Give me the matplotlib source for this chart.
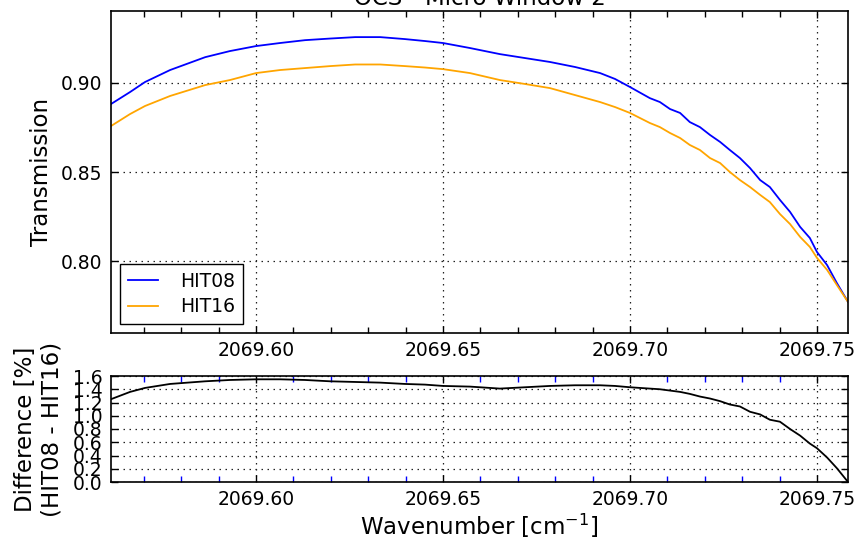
import matplotlib
matplotlib.use("Agg")
import matplotlib.pyplot as plt
from matplotlib.ticker import MultipleLocator, FormatStrFormatter

# ---- data ----
wavenumber = [2069.5612, 2069.5663, 2069.5703, 2069.5770, 2069.5864, 2069.5930,
              2069.6000, 2069.6064, 2069.6131, 2069.6198, 2069.6265, 2069.6332,
              2069.6398, 2069.6452, 2069.6500, 2069.6572, 2069.6652, 2069.6719,
              2069.6786, 2069.6853, 2069.6920, 2069.6960, 2069.7000, 2069.7053,
              2069.7080, 2069.7107, 2069.7134, 2069.7160, 2069.7187, 2069.7214,
              2069.7241, 2069.7267, 2069.7294, 2069.7321, 2069.7348, 2069.7374,
              2069.7401, 2069.7428, 2069.7455, 2069.7481, 2069.7500, 2069.7527,
              2069.7553, 2069.7583]

hit08 = [0.8880, 0.8947, 0.9003, 0.9070, 0.9142, 0.9176,
         0.9204, 0.9221, 0.9237, 0.9246, 0.9254, 0.9254,
         0.9243, 0.9232, 0.9221, 0.9193, 0.9159, 0.9137,
         0.9115, 0.9087, 0.9053, 0.9020, 0.8975, 0.8913,
         0.8891, 0.8852, 0.8830, 0.8779, 0.8751, 0.8707,
         0.8668, 0.8623, 0.8578, 0.8522, 0.8455, 0.8416,
         0.8344, 0.8277, 0.8193, 0.8131, 0.8053, 0.7980,
         0.7880, 0.7774]

hit16 = [0.8757, 0.8824, 0.8869, 0.8925, 0.8986, 0.9014,
         0.9053, 0.9070, 0.9081, 0.9092, 0.9101, 0.9101,
         0.9092, 0.9084, 0.9075, 0.9053, 0.9014, 0.8992,
         0.8969, 0.8930, 0.8891, 0.8863, 0.8830, 0.8774,
         0.8751, 0.8718, 0.8690, 0.8651, 0.8623, 0.8578,
         0.8550, 0.8500, 0.8455, 0.8416, 0.8372, 0.8332,
         0.8265, 0.8209, 0.8137, 0.8081, 0.8020, 0.7953,
         0.7869, 0.7774]

difference = [1.25, 1.36, 1.42, 1.48, 1.52, 1.54,
              1.55, 1.55, 1.54, 1.52, 1.51, 1.50,
              1.48, 1.47, 1.45, 1.44, 1.41, 1.43,
              1.45, 1.46, 1.46, 1.45, 1.43, 1.41,
              1.40, 1.38, 1.36, 1.33, 1.29, 1.26,
              1.22, 1.17, 1.14, 1.06, 1.02, 0.94,
              0.91, 0.80, 0.70, 0.58, 0.51, 0.37,
              0.21, 0.00]

title = "OCS - Micro Window 2"
series_labels = ["HIT08", "HIT16"]
series_colors = ["#0000ff", "#ffa500"]

plt.rcParams['font.family'] = ['DejaVu Sans']
plt.rcParams['xtick.direction'] = 'in'
plt.rcParams['ytick.direction'] = 'in'
plt.rcParams['xtick.top'] = True
plt.rcParams['ytick.right'] = True

W, H = 856, 538
fig = plt.figure(figsize=(W / 100, H / 100), dpi=100)
fig.patch.set_facecolor('white')

def frac(l, t, r, b):
    return [l / W, 1 - b / H, (r - l) / W, (b - t) / H]

ax1 = fig.add_axes(frac(111, 11, 848, 333))
ax2 = fig.add_axes(frac(111, 376, 848, 482))

tick_fs = 13.5
label_fs = 16.5
line_w = 1.3
grid_kw = dict(color='#222222', linestyle=(0, (1.2, 3.6)), linewidth=0.9)

ax1.plot(wavenumber, hit08, color=series_colors[0], lw=line_w, label=series_labels[0])
ax1.plot(wavenumber, hit16, color=series_colors[1], lw=line_w, label=series_labels[1])
ax1.set_xlim(2069.5612, 2069.7583)
ax1.set_ylim(0.76, 0.94)
ax1.xaxis.set_major_locator(MultipleLocator(0.05))
ax1.xaxis.set_minor_locator(MultipleLocator(0.01))
ax1.xaxis.set_major_formatter(FormatStrFormatter('%.2f'))
ax1.yaxis.set_major_locator(MultipleLocator(0.05))
ax1.yaxis.set_major_formatter(FormatStrFormatter('%.2f'))
ax1.grid(True, which='major', **grid_kw)
ax1.set_ylabel('Transmission', fontsize=label_fs, va='center')
ax1.yaxis.set_label_coords((42 - 111) / 737, 0.5)
ax1.set_title(title, fontsize=label_fs, y=1 + (11 - 4.5) / 322, pad=0, va='baseline')
leg = ax1.legend(loc='lower left', fontsize=tick_fs, fancybox=False, framealpha=1,
                 edgecolor='black', handlelength=1.6, borderaxespad=0.5,
                 borderpad=0.4, labelspacing=0.35, handletextpad=1.2)
leg.get_frame().set_linewidth(1.0)

ax2.plot(wavenumber, difference, color='black', lw=line_w)
ax2.set_xlim(2069.5612, 2069.7583)
ax2.set_ylim(0.0, 1.6)
ax2.xaxis.set_major_locator(MultipleLocator(0.05))
ax2.xaxis.set_minor_locator(MultipleLocator(0.01))
ax2.xaxis.set_major_formatter(FormatStrFormatter('%.2f'))
ax2.yaxis.set_major_locator(MultipleLocator(0.2))
ax2.yaxis.set_major_formatter(FormatStrFormatter('%.1f'))
ax2.grid(True, which='major', **grid_kw)
ax2.tick_params(axis='x', which='minor', colors='blue', length=4, width=1)
ax2.set_ylabel('Difference [%]\n(HIT08 - HIT16)', fontsize=label_fs, va='center',
               multialignment='center')
ax2.yaxis.set_label_coords((39 - 111) / 737, 0.5)
ax2.set_xlabel(r'Wavenumber [cm$^{-1}$]', fontsize=label_fs, va='center')
ax2.xaxis.set_label_coords(0.5, (482 - 526) / 106)

for ax in (ax1, ax2):
    ax.tick_params(which='major', length=5, width=1, labelsize=tick_fs, pad=6)
    ax.tick_params(axis='x', which='minor', length=4, width=1)
    for s in ax.spines.values():
        s.set_linewidth(1.2)

ax2.tick_params(axis='x', which='minor', labelcolor='black')

fig.savefig('out.png', dpi=100, facecolor='white')
